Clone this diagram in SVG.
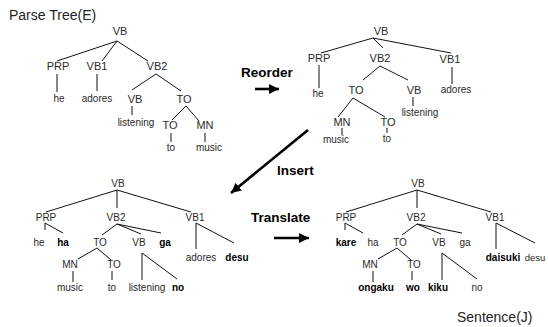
<svg xmlns="http://www.w3.org/2000/svg" width="548" height="327" viewBox="0 0 548 327">
  <style>
    text { font-family: "Liberation Sans", Arial, sans-serif; fill: #2a2a2a; text-anchor: middle; }
    .title { font-size: 14px; text-anchor: start; fill: #222; }
    .lbl { font-size: 11px; }
    .lbs { font-size: 10px; }
    .w { font-size: 10px; }
    .b { font-size: 10px; font-weight: bold; fill: #000; }
    .op { font-size: 13.5px; font-weight: bold; fill: #000; text-anchor: start; }
    .edge line { stroke: #111; stroke-width: 1; }
    .arrow { stroke: #000; stroke-width: 2.6; fill: none; }
  </style>
  <defs>
    <marker id="head" markerUnits="userSpaceOnUse" markerWidth="12" markerHeight="12" refX="10" refY="5" orient="auto">
      <path d="M0,0 L10,5 L0,10 Z" fill="#000"/>
    </marker>
  </defs>

  <rect width="548" height="327" fill="#fff"/>

  <text class="title" x="9" y="20">Parse Tree(E)</text>
  <text class="title" x="457" y="322">Sentence(J)</text>

  <!-- tree edges -->
  <g id="connectors" class="edge">
    <!-- English parse tree -->
    <line x1="117" y1="41" x2="57" y2="61"/>
    <line x1="117" y1="41" x2="102" y2="61"/>
    <line x1="117" y1="41" x2="148" y2="61"/>
    <line x1="57" y1="74" x2="57" y2="92"/>
    <line x1="97" y1="74" x2="97" y2="91"/>
    <line x1="156" y1="74" x2="132" y2="90"/>
    <line x1="156" y1="74" x2="181" y2="91"/>
    <line x1="132" y1="106" x2="132" y2="115"/>
    <line x1="186" y1="106" x2="172" y2="120"/>
    <line x1="186" y1="106" x2="199" y2="121"/>
    <line x1="171" y1="133" x2="171" y2="142"/>
    <line x1="205" y1="133" x2="205" y2="142"/>

    <!-- reordered tree -->
    <line x1="373" y1="38" x2="321" y2="53"/>
    <line x1="373" y1="38" x2="383" y2="48"/>
    <line x1="373" y1="38" x2="451" y2="53"/>
    <line x1="319" y1="65" x2="319" y2="88"/>
    <line x1="452" y1="67" x2="452" y2="84"/>
    <line x1="380" y1="66" x2="363" y2="80"/>
    <line x1="380" y1="66" x2="408" y2="80"/>
    <line x1="413" y1="97" x2="413" y2="106"/>
    <line x1="353" y1="98" x2="338" y2="117"/>
    <line x1="353" y1="98" x2="385" y2="117"/>
    <line x1="342" y1="128" x2="342" y2="135"/>
    <line x1="387" y1="128" x2="387" y2="133"/>

    <!-- tree with inserted particles -->
    <line x1="117" y1="190" x2="46" y2="212"/>
    <line x1="117" y1="190" x2="117" y2="208"/>
    <line x1="117" y1="190" x2="191" y2="212"/>
    <line x1="45" y1="223" x2="45" y2="230"/>
    <line x1="45" y1="223" x2="63" y2="233"/>
    <line x1="117" y1="224" x2="102" y2="235"/>
    <line x1="117" y1="224" x2="141" y2="234"/>
    <line x1="117" y1="224" x2="161" y2="233"/>
    <line x1="97" y1="248" x2="78" y2="259"/>
    <line x1="97" y1="248" x2="111" y2="260"/>
    <line x1="73" y1="271" x2="73" y2="282"/>
    <line x1="112" y1="271" x2="112" y2="280"/>
    <line x1="142" y1="253" x2="142" y2="280"/>
    <line x1="142" y1="253" x2="177" y2="279"/>
    <line x1="196" y1="223" x2="196" y2="249"/>
    <line x1="196" y1="223" x2="234" y2="243"/>

    <!-- Japanese tree -->
    <line x1="417" y1="190" x2="346" y2="212"/>
    <line x1="417" y1="190" x2="417" y2="208"/>
    <line x1="417" y1="190" x2="491" y2="212"/>
    <line x1="345" y1="223" x2="345" y2="230"/>
    <line x1="345" y1="223" x2="363" y2="233"/>
    <line x1="417" y1="224" x2="402" y2="235"/>
    <line x1="417" y1="224" x2="441" y2="234"/>
    <line x1="417" y1="224" x2="462" y2="233"/>
    <line x1="397" y1="248" x2="378" y2="259"/>
    <line x1="397" y1="248" x2="411" y2="260"/>
    <line x1="373" y1="271" x2="373" y2="282"/>
    <line x1="412" y1="271" x2="412" y2="280"/>
    <line x1="442" y1="253" x2="442" y2="280"/>
    <line x1="442" y1="253" x2="477" y2="279"/>
    <line x1="496" y1="223" x2="496" y2="249"/>
    <line x1="496" y1="223" x2="535" y2="243"/>
  </g>

  <!-- transformation arrows -->
  <g id="steps">
    <line class="arrow" x1="255" y1="89" x2="279" y2="89" marker-end="url(#head)"/>
    <text class="op" x="241" y="77">Reorder</text>
    <line class="arrow" x1="308" y1="130" x2="231" y2="193" marker-end="url(#head)"/>
    <text class="op" x="277" y="175">Insert</text>
    <line class="arrow" x1="274" y1="238" x2="309" y2="238" marker-end="url(#head)"/>
    <text class="op" x="251" y="222">Translate</text>
  </g>

  <!-- English parse tree nodes -->
  <g id="e-vb"><text class="lbl" x="120" y="35">VB</text></g>
  <g id="e-prp"><text class="lbl" x="58" y="70">PRP</text></g>
  <g id="e-vb1"><text class="lbl" x="97" y="70">VB1</text></g>
  <g id="e-vb2"><text class="lbl" x="157" y="70">VB2</text></g>
  <g id="e-he"><text class="w" x="59" y="102">he</text></g>
  <g id="e-adores"><text class="w" x="97" y="102">adores</text></g>
  <g id="e-vb-l"><text class="lbl" x="135" y="103">VB</text></g>
  <g id="e-to"><text class="lbl" x="184" y="103">TO</text></g>
  <g id="e-listening"><text class="w" x="136" y="126">listening</text></g>
  <g id="e-to2"><text class="lbl" x="170" y="129">TO</text></g>
  <g id="e-mn"><text class="lbl" x="205" y="129">MN</text></g>
  <g id="e-to-w"><text class="w" x="171" y="151">to</text></g>
  <g id="e-music"><text class="w" x="209" y="151">music</text></g>

  <!-- reordered tree nodes -->
  <g id="r-vb"><text class="lbl" x="381" y="35">VB</text></g>
  <g id="r-prp"><text class="lbl" x="319" y="62">PRP</text></g>
  <g id="r-vb2"><text class="lbl" x="380" y="62">VB2</text></g>
  <g id="r-vb1"><text class="lbl" x="450" y="63">VB1</text></g>
  <g id="r-he"><text class="w" x="318" y="97">he</text></g>
  <g id="r-adores"><text class="w" x="456" y="93">adores</text></g>
  <g id="r-to"><text class="lbl" x="356" y="94">TO</text></g>
  <g id="r-vb-l"><text class="lbl" x="414" y="94">VB</text></g>
  <g id="r-listening"><text class="w" x="420" y="116">listening</text></g>
  <g id="r-mn"><text class="lbl" x="342" y="126">MN</text></g>
  <g id="r-to2"><text class="lbl" x="388" y="126">TO</text></g>
  <g id="r-music"><text class="w" x="336" y="143">music</text></g>
  <g id="r-to-w"><text class="w" x="387" y="142">to</text></g>

  <!-- tree with inserted particles -->
  <g id="i-vb"><text class="lbs" x="118" y="187">VB</text></g>
  <g id="i-prp"><text class="lbs" x="46" y="221">PRP</text></g>
  <g id="i-vb2"><text class="lbs" x="116" y="221">VB2</text></g>
  <g id="i-vb1"><text class="lbs" x="195" y="221">VB1</text></g>
  <g id="i-he"><text class="w" x="39" y="246">he</text></g>
  <g id="i-ha"><text class="b" x="63" y="246">ha</text></g>
  <g id="i-to"><text class="lbs" x="100" y="246">TO</text></g>
  <g id="i-vb-l"><text class="lbs" x="139" y="246">VB</text></g>
  <g id="i-ga"><text class="b" x="165" y="246">ga</text></g>
  <g id="i-mn"><text class="lbs" x="70" y="268">MN</text></g>
  <g id="i-to2"><text class="lbs" x="114" y="268">TO</text></g>
  <g id="i-music"><text class="w" x="70" y="291">music</text></g>
  <g id="i-to-w"><text class="w" x="112" y="291">to</text></g>
  <g id="i-listening"><text class="w" x="147" y="291">listening</text></g>
  <g id="i-no"><text class="b" x="178" y="291">no</text></g>
  <g id="i-adores"><text class="w" x="201" y="261">adores</text></g>
  <g id="i-desu"><text class="b" x="237" y="261">desu</text></g>

  <!-- Japanese tree nodes -->
  <g id="j-vb"><text class="lbs" x="418" y="187">VB</text></g>
  <g id="j-prp"><text class="lbs" x="346" y="221">PRP</text></g>
  <g id="j-vb2"><text class="lbs" x="416" y="221">VB2</text></g>
  <g id="j-vb1"><text class="lbs" x="495" y="221">VB1</text></g>
  <g id="j-kare"><text class="b" x="346" y="246">kare</text></g>
  <g id="j-ha"><text class="w" x="373" y="246">ha</text></g>
  <g id="j-to"><text class="lbs" x="400" y="246">TO</text></g>
  <g id="j-vb-l"><text class="lbs" x="439" y="246">VB</text></g>
  <g id="j-ga"><text class="w" x="465" y="246">ga</text></g>
  <g id="j-mn"><text class="lbs" x="370" y="268">MN</text></g>
  <g id="j-to2"><text class="lbs" x="414" y="268">TO</text></g>
  <g id="j-ongaku"><text class="b" x="376" y="291">ongaku</text></g>
  <g id="j-wo"><text class="b" x="413" y="291">wo</text></g>
  <g id="j-kiku"><text class="b" x="438" y="291">kiku</text></g>
  <g id="j-no"><text class="w" x="477" y="291">no</text></g>
  <g id="j-daisuki"><text class="b" x="503" y="261">daisuki</text></g>
  <g id="j-desu"><text class="w" x="535" y="261" style="font-size:9.5px">desu</text></g>
</svg>
